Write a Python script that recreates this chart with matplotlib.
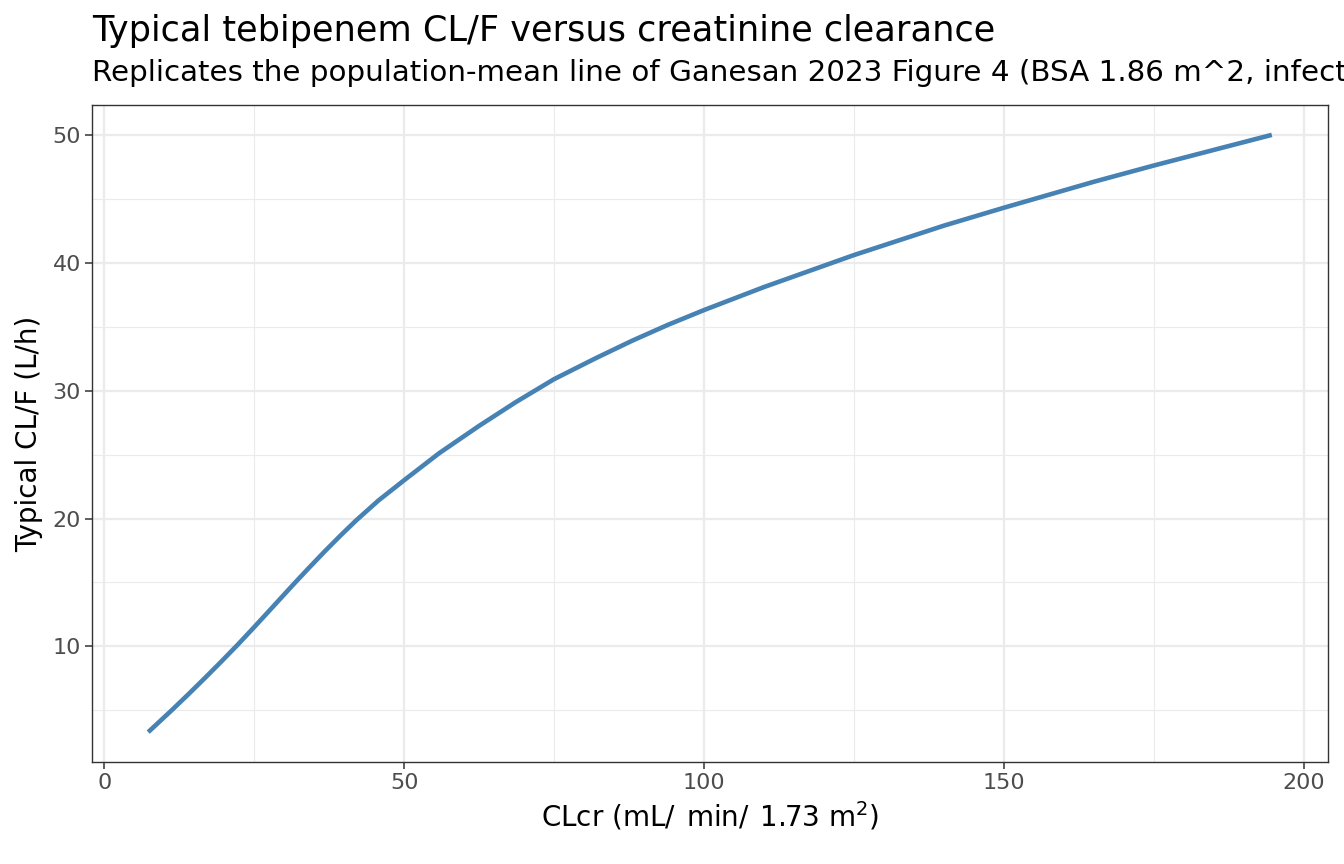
import matplotlib
matplotlib.use("Agg")
import matplotlib.pyplot as plt
from matplotlib.ticker import MultipleLocator

# Data
clcr = [7.3, 11.2, 14.0, 16.8, 19.5, 22.2, 25.0, 28.0, 31.6, 34.0, 36.8,
        39.5, 42.0, 45.7, 50.0, 55.8, 62.5, 68.6, 75.0, 82.0, 88.0, 94.0,
        100.0, 110.0, 125.0, 140.0, 150.0, 165.0, 175.0, 185.0, 194.7]
clf = [3.3, 5.0, 6.26, 7.55, 8.82, 10.12, 11.52, 13.05, 14.89, 16.09, 17.46,
       18.73, 19.86, 21.41, 23.0, 25.1, 27.25, 29.1, 30.9, 32.55, 33.9, 35.15,
       36.3, 38.1, 40.6, 42.9, 44.3, 46.33, 47.6, 48.82, 50.0]
x_ticks = [0, 50, 100, 150, 200]
y_ticks = [10, 20, 30, 40, 50]

title = "Typical tebipenem CL/F versus creatinine clearance"
subtitle = "Replicates the population-mean line of Ganesan 2023 Figure 4 (BSA 1.86 m^2, infected patients)"
xlabel = r"CLcr (mL/$\;\,$min/$\;\,$1.73 m$^2$)"
ylabel = "Typical CL/F (L/h)"

plt.rcParams['font.family'] = ['DejaVu Sans']
plt.rcParams['mathtext.fontset'] = 'dejavusans'
plt.rcParams['mathtext.default'] = 'regular'

W, H = 1344, 864
fig = plt.figure(figsize=(W / 100, H / 100), dpi=100)
ax = fig.add_axes([92 / W, 1 - 762 / H, (1328 - 92) / W, (762 - 105) / H])

ax.plot(clcr, clf, color="#4682B4", linewidth=3.3, solid_capstyle="butt",
        solid_joinstyle="round", zorder=3)

xr = max(clcr) - min(clcr)
yr = max(clf) - min(clf)
ax.set_xlim(min(clcr) - 0.05 * xr, max(clcr) + 0.05 * xr)
ax.set_ylim(min(clf) - 0.05 * yr, max(clf) + 0.05 * yr)

ax.set_xticks(x_ticks)
ax.set_yticks(y_ticks)
ax.xaxis.set_minor_locator(MultipleLocator(25))
ax.yaxis.set_minor_locator(MultipleLocator(5))
ax.grid(True, which="major", color="#EBEBEB", linewidth=1.6, zorder=0)
ax.grid(True, which="minor", color="#EBEBEB", linewidth=0.8, zorder=0)
ax.set_axisbelow(True)
ax.tick_params(which="minor", length=0)
ax.tick_params(which="major", length=5, width=1.1, color="#333333",
               labelcolor="#4D4D4D", labelsize=16, pad=3)
for s in ax.spines.values():
    s.set_color("#333333")
    s.set_linewidth(1.0)

ax.set_xlabel(xlabel, fontsize=20, color="black", labelpad=5)
ax.set_ylabel(ylabel, fontsize=20, color="black", labelpad=7)

fig.text(92 / W, 1 - 41 / H, title, fontsize=25.3, ha="left", va="baseline")
fig.text(92 / W, 1 - 81 / H, subtitle, fontsize=21.2, ha="left", va="baseline")

fig.savefig("out.png", dpi=100, facecolor="white")
